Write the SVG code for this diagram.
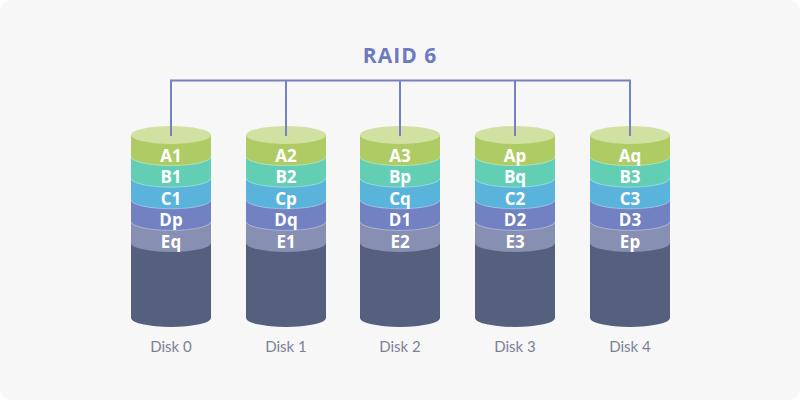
<svg xmlns="http://www.w3.org/2000/svg" width="800" height="400" viewBox="0 0 800 400">
<defs>
<style>
.lbl{font-family:"Open Sans","Liberation Sans",sans-serif;font-weight:700;font-size:17px;fill:#ffffff;text-anchor:middle}
.dsk{font-family:Lato,"Liberation Sans",sans-serif;font-size:15px;fill:#7b8196;text-anchor:middle}
.ttl{font-family:"Open Sans","Liberation Sans",sans-serif;font-weight:700;font-size:21px;letter-spacing:1px;fill:#6c7bbd;text-anchor:middle}
.con{fill:none;stroke:#7581c2;stroke-width:2}
.sep{fill:none;stroke:#ffffff;stroke-opacity:0.35;stroke-width:1}
</style>
<g id="cyl">
<path d="M-40,243 L-40,318 A40,9 0 0 0 40,318 L40,243 Z" fill="#55607f"/>
<path d="M-40,221.4 L-40,243 A40,9 0 0 0 40,243 L40,221.4 Z" fill="#8790b2"/>
<path d="M-40,199.8 L-40,221.4 A40,9 0 0 0 40,221.4 L40,199.8 Z" fill="#7281c1"/>
<path d="M-40,178.2 L-40,199.8 A40,9 0 0 0 40,199.8 L40,178.2 Z" fill="#59b3db"/>
<path d="M-40,156.6 L-40,178.2 A40,9 0 0 0 40,178.2 L40,156.6 Z" fill="#62cfb5"/>
<path d="M-40,135 L-40,156.6 A40,9 0 0 0 40,156.6 L40,135 Z" fill="#aecc63"/>
<path class="sep" d="M-40,156.6 A40,9 0 0 0 40,156.6"/>
<path class="sep" d="M-40,178.2 A40,9 0 0 0 40,178.2"/>
<path class="sep" d="M-40,199.8 A40,9 0 0 0 40,199.8"/>
<path class="sep" d="M-40,221.4 A40,9 0 0 0 40,221.4"/>
<ellipse cx="0" cy="135" rx="40" ry="9" fill="#d1e1a2"/>
</g>
</defs>
<rect x="0" y="0" width="800" height="400" rx="12" fill="#f7f7f7"/>
<text class="ttl" x="400" y="63">RAID 6</text>
<g id="connectors">
<path class="con" d="M171,136 V80.5 H630 V136 M286,80.5 V136 M400,80.5 V136 M515,80.5 V136"/>
</g>
<g id="disk0">
<use href="#cyl" x="171"/>
<path class="con" d="M171,80.5 V136"/>
<text class="lbl" x="171" y="162">A1</text>
<text class="lbl" x="171" y="183">B1</text>
<text class="lbl" x="171" y="205">C1</text>
<text class="lbl" x="171" y="226">Dp</text>
<text class="lbl" x="171" y="248">Eq</text>
<text class="dsk" x="171" y="352">Disk 0</text>
</g>
<g id="disk1">
<use href="#cyl" x="286"/>
<path class="con" d="M286,80.5 V136"/>
<text class="lbl" x="286" y="162">A2</text>
<text class="lbl" x="286" y="183">B2</text>
<text class="lbl" x="286" y="205">Cp</text>
<text class="lbl" x="286" y="226">Dq</text>
<text class="lbl" x="286" y="248">E1</text>
<text class="dsk" x="286" y="352">Disk 1</text>
</g>
<g id="disk2">
<use href="#cyl" x="400"/>
<path class="con" d="M400,80.5 V136"/>
<text class="lbl" x="400" y="162">A3</text>
<text class="lbl" x="400" y="183">Bp</text>
<text class="lbl" x="400" y="205">Cq</text>
<text class="lbl" x="400" y="226">D1</text>
<text class="lbl" x="400" y="248">E2</text>
<text class="dsk" x="400" y="352">Disk 2</text>
</g>
<g id="disk3">
<use href="#cyl" x="515"/>
<path class="con" d="M515,80.5 V136"/>
<text class="lbl" x="515" y="162">Ap</text>
<text class="lbl" x="515" y="183">Bq</text>
<text class="lbl" x="515" y="205">C2</text>
<text class="lbl" x="515" y="226">D2</text>
<text class="lbl" x="515" y="248">E3</text>
<text class="dsk" x="515" y="352">Disk 3</text>
</g>
<g id="disk4">
<use href="#cyl" x="630"/>
<path class="con" d="M630,80.5 V136"/>
<text class="lbl" x="630" y="162">Aq</text>
<text class="lbl" x="630" y="183">B3</text>
<text class="lbl" x="630" y="205">C3</text>
<text class="lbl" x="630" y="226">D3</text>
<text class="lbl" x="630" y="248">Ep</text>
<text class="dsk" x="630" y="352">Disk 4</text>
</g>
</svg>
